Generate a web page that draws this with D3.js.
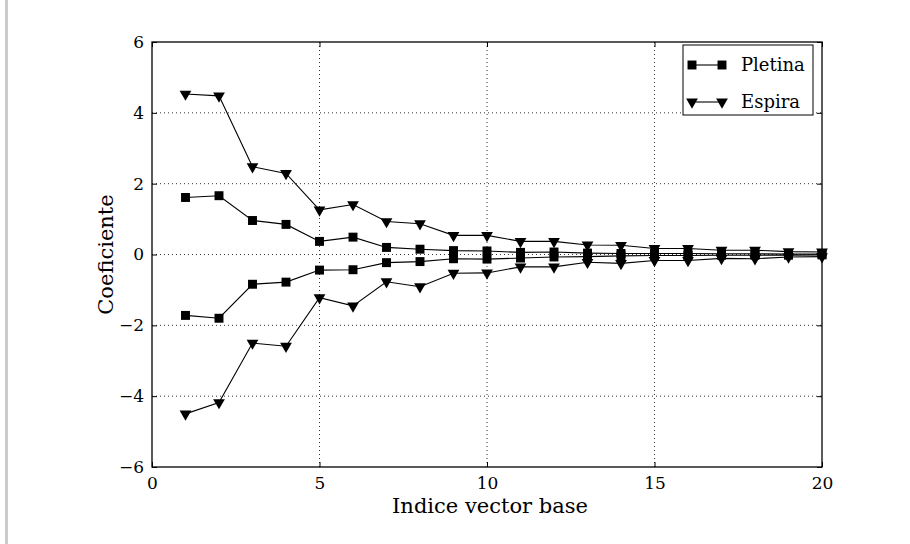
<!DOCTYPE html>
<html>
<head>
<meta charset="utf-8">
<script src="https://cdn.jsdelivr.net/npm/d3@7"></script>
<style>
    body { margin: 0; background: #fff; }
    #chart { width: 910px; height: 544px; position: relative; }
    .side-bar { position: absolute; left: 5px; top: 0; width: 3px; height: 544px; background: #cbcbcb; }
    text { font-family: "DejaVu Serif", serif; fill: #000; }
</style>
</head>
<body>
<div id="chart"><div class="side-bar"></div></div>
<script>
// Chart data
const indices = [1, 2, 3, 4, 5, 6, 7, 8, 9, 10, 11, 12, 13, 14, 15, 16, 17, 18, 19, 20];
const pletinaPos = [1.61, 1.66, 0.96, 0.85, 0.37, 0.49, 0.20, 0.15, 0.11, 0.10, 0.06, 0.07, 0.04, 0.03, 0.03, 0.03, 0.02, 0.02, 0.01, 0.01];
const pletinaNeg = [-1.72, -1.80, -0.84, -0.78, -0.44, -0.43, -0.23, -0.20, -0.12, -0.13, -0.10, -0.07, -0.06, -0.04, -0.03, -0.03, -0.02, -0.02, -0.02, -0.01];
const espiraPos = [4.53, 4.48, 2.48, 2.29, 1.26, 1.41, 0.93, 0.87, 0.54, 0.54, 0.37, 0.37, 0.27, 0.26, 0.17, 0.17, 0.12, 0.12, 0.08, 0.07];
const espiraNeg = [-4.50, -4.18, -2.50, -2.59, -1.22, -1.45, -0.77, -0.91, -0.53, -0.52, -0.35, -0.35, -0.22, -0.25, -0.17, -0.17, -0.11, -0.12, -0.07, -0.06];
const xTicks = [0, 5, 10, 15, 20];
const yTicks = [-6, -4, -2, 0, 2, 4, 6];
const seriesNames = ["Pletina", "Espira"];

let margin = { top: 42, right: 88, bottom: 77, left: 152 };
let width = 910 - margin.left - margin.right,
    height = 544 - margin.top - margin.bottom;

let svg = d3.select("#chart").append("svg")
    .attr("width", 910)
    .attr("height", 544)
    .style("position", "absolute")
    .style("left", 0)
    .style("top", 0)
    .append("g")
    .attr("transform", "translate(" + margin.left + "," + margin.top + ")");

// Scales
let x = d3.scaleLinear().domain([0, 20]).range([0, width]);
let y = d3.scaleLinear().domain([-6, 6]).range([height, 0]);

// Grid lines (dotted)
svg.selectAll(".vgrid")
    .data(xTicks.slice(1, -1))
    .enter().append("line")
    .attr("x1", d => x(d)).attr("x2", d => x(d))
    .attr("y1", 0).attr("y2", height)
    .attr("stroke", "#000").attr("stroke-width", 0.8)
    .attr("stroke-dasharray", "1,3");

svg.selectAll(".hgrid")
    .data(yTicks.slice(1, -1))
    .enter().append("line")
    .attr("x1", 0).attr("x2", width)
    .attr("y1", d => y(d)).attr("y2", d => y(d))
    .attr("stroke", "#000").attr("stroke-width", 0.8)
    .attr("stroke-dasharray", "1,3");

// Axes (ticks pointing inward, like matplotlib)
let fmt = d => d < 0 ? "\u2212" + Math.abs(d) : "" + d;

svg.append("g")
    .attr("transform", "translate(0," + height + ")")
    .call(d3.axisBottom(x).tickValues(xTicks).tickFormat(fmt).tickSizeInner(-5).tickSizeOuter(0).tickPadding(10));
svg.append("g")
    .call(d3.axisLeft(y).tickValues(yTicks).tickFormat(fmt).tickSizeInner(-5).tickSizeOuter(0).tickPadding(8));
svg.append("g")
    .attr("transform", "translate(" + width + ",0)")
    .call(d3.axisRight(y).tickValues(yTicks).tickFormat("").tickSizeInner(-5).tickSizeOuter(0));
svg.append("g")
    .call(d3.axisTop(x).tickValues(xTicks).tickFormat("").tickSizeInner(-5).tickSizeOuter(0));

svg.selectAll(".domain").remove();
svg.selectAll(".tick line").attr("stroke", "#000");
svg.selectAll(".tick text")
    .style("font-family", "'DejaVu Serif', serif")
    .style("font-size", "17px")
    .attr("fill", "#000");

// Frame
svg.append("rect")
    .attr("width", width).attr("height", height)
    .attr("fill", "none").attr("stroke", "#000").attr("stroke-width", 1.3);

// Lines and markers
let line = d3.line()
    .x((d, i) => x(indices[i]))
    .y(d => y(d));

let square = d3.symbol().type(d3.symbolSquare).size(80);
let triangle = d3.symbol().type(d3.symbolTriangle).size(60);

function drawSeries(values, sym, rotate) {
    svg.append("path")
        .datum(values)
        .attr("fill", "none")
        .attr("stroke", "#000")
        .attr("stroke-width", 1.1)
        .attr("d", line);

    svg.selectAll(null)
        .data(values)
        .enter().append("path")
        .attr("d", sym)
        .attr("fill", "#000")
        .attr("transform", (d, i) => "translate(" + x(indices[i]) + "," + y(d) + ")" + (rotate ? " rotate(180)" : ""));
}

drawSeries(pletinaPos, square, false);
drawSeries(pletinaNeg, square, false);
drawSeries(espiraPos, triangle, true);
drawSeries(espiraNeg, triangle, true);

// Axis titles
svg.append("text")
    .attr("x", 338)
    .attr("y", 471)
    .attr("text-anchor", "middle")
    .attr("font-size", 21)
    .text("Indice vector base");

svg.append("text")
    .attr("transform", "translate(-39," + (height / 2) + ") rotate(-90)")
    .attr("text-anchor", "middle")
    .attr("font-size", 21)
    .text("Coeficiente");

// Legend
let legend = svg.append("g")
    .attr("transform", "translate(" + (width - 139) + ",3)");

legend.append("rect")
    .attr("width", 130).attr("height", 70)
    .attr("fill", "#fff").attr("stroke", "#000").attr("stroke-width", 1);

seriesNames.forEach((name, i) => {
    let ly = 20 + i * 37;
    legend.append("line")
        .attr("x1", 9).attr("x2", 39)
        .attr("y1", ly).attr("y2", ly)
        .attr("stroke", "#000").attr("stroke-width", 1.1);
    [9, 39].forEach(lx => {
        legend.append("path")
            .attr("d", i == 0 ? square : triangle)
            .attr("fill", "#000")
            .attr("transform", "translate(" + lx + "," + ly + ")" + (i == 0 ? "" : " rotate(180)"));
    });
    legend.append("text")
        .attr("x", 58)
        .attr("y", ly + 6)
        .attr("font-size", 18)
        .text(name);
});
</script>
</body>
</html>
